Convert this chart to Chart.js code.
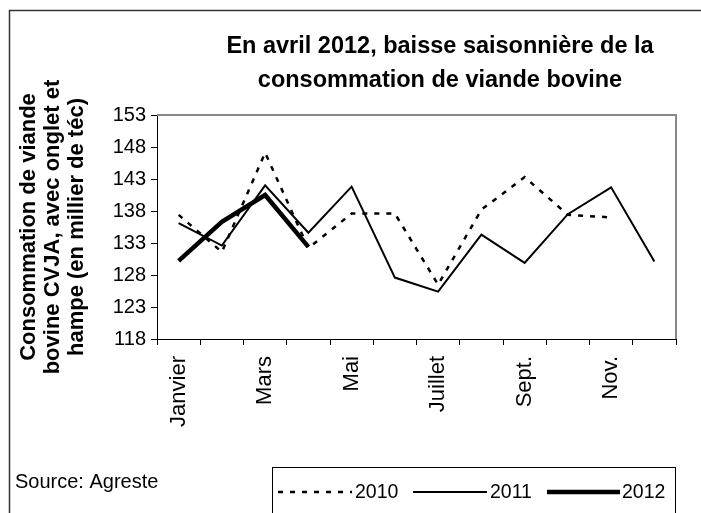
<!DOCTYPE html>
<html>
<head>
<meta charset="utf-8">
<script src="https://cdn.jsdelivr.net/npm/chart.js@4"></script>
<style>
  html, body { margin: 0; padding: 0; background: #fff; }
  #wrap { position: relative; width: 701px; height: 513px; }
</style>
</head>
<body>
<div id="wrap"><canvas id="ctx" width="701" height="513"></canvas></div>
<script>
const months = ['Janvier', 'Février', 'Mars', 'Avril', 'Mai', 'Juin', 'Juillet', 'Août', 'Sept.', 'Oct.', 'Nov.', 'Déc.'];
const data_2010 = [137.4, 131.6, 147.1, 132.2, 137.6, 137.6, 126.5, 138.2, 143.3, 137.4, 137.0, null];
const data_2011 = [136.1, 132.6, 142.0, 134.6, 141.8, 127.6, 125.4, 134.3, 129.9, 137.5, 141.7, 130.1];
const data_2012 = [130.2, 136.3, 140.5, 132.4, null, null, null, null, null, null, null, null];
const yTicks = [118, 123, 128, 133, 138, 143, 148, 153];

const titleLines = ['En avril 2012, baisse saisonnière de la', 'consommation de viande bovine'];
const yTitleLines = ['Consommation de viande', 'bovine CVJA, avec onglet et', 'hampe (en millier de téc)'];
const sourceText = 'Source: Agreste';

const FONT = "'Liberation Sans', Arial, sans-serif";

// cadre, titre, titre de l'axe Y, source et légende
const decorPlugin = {
    id: 'decor',
    afterDraw(chart) {
        const c = chart.ctx;
        const a = chart.chartArea;
        c.save();

        // bordure extérieure
        c.strokeStyle = '#333';
        c.lineWidth = 1.5;
        c.beginPath();
        c.moveTo(701, 10.5);
        c.lineTo(9.5, 10.5);
        c.lineTo(9.5, 513);
        c.stroke();

        // bord haut et droit de la zone de traçage
        c.strokeStyle = '#888';
        c.lineWidth = 2;
        c.beginPath();
        c.moveTo(a.left, a.top);
        c.lineTo(a.right, a.top);
        c.lineTo(a.right, a.bottom);
        c.stroke();

        c.fillStyle = '#000';
        c.textAlign = 'center';
        c.textBaseline = 'middle';
        c.font = 'bold 23.5px ' + FONT;
        c.fillText(titleLines[0], 440, 47);
        c.fillText(titleLines[1], 440, 81);

        // titre axe Y
        c.font = 'bold 22px ' + FONT;
        const yc = (a.top + a.bottom) / 2;
        const xs = [29, 53, 77];
        yTitleLines.forEach((t, i) => {
            c.save();
            c.translate(xs[i], yc);
            c.rotate(-Math.PI / 2);
            c.fillText(t, 0, 0);
            c.restore();
        });

        c.textAlign = 'left';
        c.font = '20px ' + FONT;
        c.fillText(sourceText, 15, 482);

        // légende
        c.strokeStyle = '#000';
        c.lineWidth = 1;
        c.strokeRect(272.5, 467.5, 403, 50);
        const items = [[278, 352, 355], [413, 487, 490], [547, 620, 622]];
        c.font = '19.5px ' + FONT;
        chart.data.datasets.forEach((ds, i) => {
            const it = items[i];
            c.save();
            c.strokeStyle = ds.borderColor;
            c.lineWidth = ds.borderWidth;
            c.setLineDash(ds.borderDash || []);
            c.beginPath();
            c.moveTo(it[0], 492);
            c.lineTo(it[1], 492);
            c.stroke();
            c.restore();
            c.fillText(ds.label, it[2], 493);
        });

        c.restore();
    }
};

const config = {
    type: 'line',
    data: {
        labels: months,
        datasets: [
            {
                label: '2010',
                data: data_2010,
                borderColor: '#000',
                borderWidth: 2.5,
                borderDash: [5, 7],
                pointRadius: 0,
                tension: 0,
            },
            {
                label: '2011',
                data: data_2011,
                borderColor: '#000',
                borderWidth: 2,
                pointRadius: 0,
                tension: 0,
            },
            {
                label: '2012',
                data: data_2012,
                borderColor: '#000',
                borderWidth: 4.5,
                pointRadius: 0,
                tension: 0,
            },
        ]
    },
    options: {
        responsive: false,
        animation: false,
        layout: { padding: { top: 115, right: 25, left: 0, bottom: 0 } },
        plugins: {
            legend: { display: false },
            title: { display: false },
            tooltip: { enabled: false },
        },
        scales: {
            x: {
                offset: true,
                afterFit: s => { s.height = 174; },
                border: { color: '#000', width: 1 },
                grid: { offset: true, drawOnChartArea: false, color: '#000', tickLength: 6 },
                ticks: {
                    autoSkip: false,
                    minRotation: 90,
                    maxRotation: 90,
                    padding: 11,
                    color: '#000',
                    font: { family: FONT, size: 22 },
                    callback: function(value, index) {
                        return index % 2 === 0 ? months[index] : '';
                    }
                }
            },
            y: {
                min: yTicks[0],
                max: yTicks[yTicks.length - 1],
                afterFit: s => { s.width = 157; },
                afterBuildTicks: s => { s.ticks = yTicks.map(v => ({ value: v })); },
                border: { color: '#000', width: 1 },
                grid: { drawOnChartArea: false, color: '#000', tickLength: 6 },
                ticks: {
                    padding: 5,
                    color: '#000',
                    font: { family: FONT, size: 20 },
                }
            }
        }
    },
    plugins: [decorPlugin]
};

const graphChart = new Chart(document.getElementById('ctx').getContext('2d'), config);
</script>
</body>
</html>
